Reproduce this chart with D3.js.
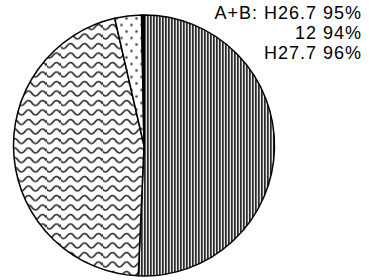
<!DOCTYPE html>
<html><head><meta charset="utf-8">
<script src="https://cdn.jsdelivr.net/npm/d3@7"></script>
<style>html,body{margin:0;padding:0;background:#fff;}svg{display:block;}</style>
</head><body>
<script>
const categories = ["Stripes", "Waves", "Dots", "Black"];
const values = [50.7, 45.7, 3.3, 0.3];
const patterns = ["pStripe", "pWave", "pDot", "pBlack"];
const legendLines = ["A+B: H26.7 95%", "12 94%", "H27.7 96%"];

const W = 370, H = 280;
const svg = d3.select("body").append("svg").attr("width", W).attr("height", H);
const defs = svg.append("defs");

const ps = defs.append("pattern").attr("id", "pStripe").attr("patternUnits", "userSpaceOnUse")
  .attr("width", 3).attr("height", 10);
ps.append("rect").attr("width", 3).attr("height", 10).attr("fill", "#e6e6e6");
ps.append("rect").attr("width", 1.7).attr("height", 10).attr("fill", "#2a2a2a");

const pw = defs.append("pattern").attr("id", "pWave").attr("patternUnits", "userSpaceOnUse")
  .attr("width", 14).attr("height", 9.5);
pw.append("rect").attr("width", 14).attr("height", 9.5).attr("fill", "#fff");
pw.append("path").attr("d", "M-7,5 Q-3.5,0 0,5 T7,5 T14,5 T21,5").attr("fill", "none")
  .attr("stroke", "#303030").attr("stroke-width", 1.8);

const pd = defs.append("pattern").attr("id", "pDot").attr("patternUnits", "userSpaceOnUse")
  .attr("width", 10).attr("height", 13);
pd.append("rect").attr("width", 10).attr("height", 13).attr("fill", "#fff");
pd.append("circle").attr("cx", 2.5).attr("cy", 3).attr("r", 1.3).attr("fill", "#444");
pd.append("circle").attr("cx", 7.5).attr("cy", 9.5).attr("r", 1.3).attr("fill", "#444");

const pb = defs.append("pattern").attr("id", "pBlack").attr("patternUnits", "userSpaceOnUse")
  .attr("width", 4).attr("height", 4);
pb.append("rect").attr("width", 4).attr("height", 4).attr("fill", "#000");

const cx = 144, cy = 145.5, r = 130.5;
const pie = d3.pie().sort(null).value(d => d.v);
const arcs = pie(values.map((v, i) => ({ v, c: categories[i], p: patterns[i] })));
const arc = d3.arc().innerRadius(0).outerRadius(r);

const g = svg.append("g").attr("transform", `translate(${cx},${cy})`);
g.selectAll("path").data(arcs).join("path")
  .attr("d", arc)
  .attr("fill", d => `url(#${d.data.p})`)
  .attr("stroke", "#000").attr("stroke-width", 1.5).attr("stroke-linejoin", "round");

svg.append("g").selectAll("text").data(legendLines).join("text")
  .attr("x", 362).attr("y", (d, i) => 19 + i * 20)
  .attr("text-anchor", "end")
  .attr("font-family", "Liberation Sans, Arial, sans-serif")
  .attr("font-size", 18).attr("letter-spacing", 1).attr("fill", "#000")
  .text(d => d);
</script>
</body></html>
